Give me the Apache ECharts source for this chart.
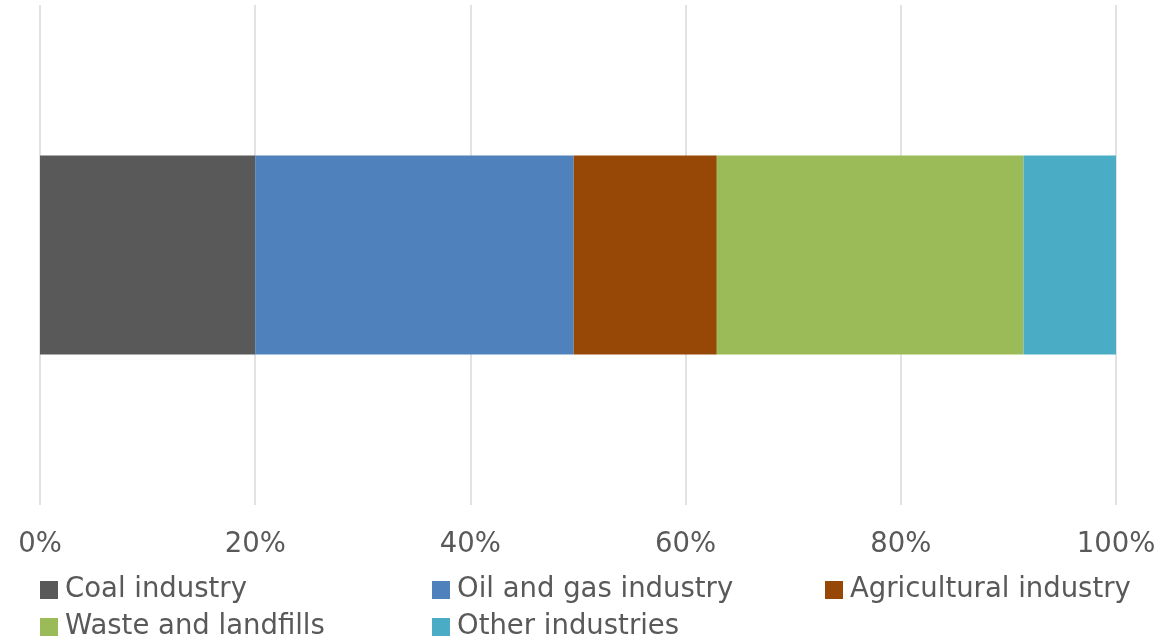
<!DOCTYPE html>
<html>
<head>
<meta charset="utf-8">
<script src="https://cdn.jsdelivr.net/npm/echarts@6/dist/echarts.min.js"></script>
<style>html,body{margin:0;padding:0;background:#fff}#c{width:1160px;height:641px}</style>
</head>
<body>
<div id="c"></div>
<script>
const categories = ['Emissions'];
const seriesNames = ['Coal industry', 'Oil and gas industry', 'Agricultural industry', 'Waste and landfills', 'Other industries'];
const seriesValues = [20.0, 29.6, 13.3, 28.5, 8.6];
const seriesColors = ['#595959', '#4F81BD', '#974706', '#9BBB59', '#4BACC6'];
const xTicks = [0, 20, 40, 60, 80, 100];

const FONT = '"DejaVu Sans", sans-serif';
const TXT = '#595959';

const legendLeft = [40, 432, 825, 40, 432];
const legendTop = [575, 575, 575, 612, 612];

const chart = echarts.init(document.getElementById('c'), null, {renderer: 'canvas'});
chart.setOption({
  animation: false,
  backgroundColor: '#fff',
  grid: {left: 40, right: 44, top: 5, bottom: 136, containLabel: false},
  legend: seriesNames.map((n, i) => ({
    orient: 'horizontal',
    left: legendLeft[i],
    top: legendTop[i],
    padding: 0,
    itemWidth: 18,
    itemHeight: 18,
    icon: 'rect',
    selectedMode: false,
    data: [n],
    textStyle: {fontFamily: FONT, fontSize: 27.5, color: TXT, lineHeight: 30, padding: [0, 0, 0, 2]}
  })),
  xAxis: {
    type: 'value',
    min: 0, max: 100, interval: 20,
    axisLine: {show: false},
    axisTick: {show: false},
    splitLine: {show: true, lineStyle: {color: '#D9D9D9', width: 1.5}},
    axisLabel: {
      margin: 26,
      fontFamily: FONT, fontSize: 27.5, color: TXT,
      formatter: v => xTicks.includes(v) ? v + '%' : ''
    }
  },
  yAxis: {
    type: 'category',
    data: categories,
    show: false
  },
  series: seriesNames.map((n, i) => ({
    name: n,
    type: 'bar',
    stack: 'total',
    barWidth: 199,
    data: [seriesValues[i]],
    itemStyle: {color: seriesColors[i]}
  }))
});
</script>
</body>
</html>
